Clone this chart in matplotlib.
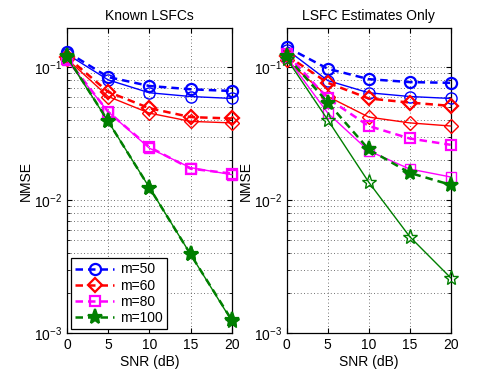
import numpy as np
import matplotlib
matplotlib.use('Agg')
import matplotlib.pyplot as plt

plt.rcParams['font.family'] = ['Liberation Sans', 'DejaVu Sans']

snr = [0, 5, 10, 15, 20]
labels = ['m=50', 'm=60', 'm=80', 'm=100']
colors = ['#0000ff', '#ff0000', '#ff00ff', '#007f00']
markers = ['o', 'D', 's', '*']
msizes = [8, 7, 7, 11]

# Known LSFCs: dashed / solid curves
known_dash = [
    [0.130, 0.084, 0.072, 0.068, 0.066],
    [0.119, 0.065, 0.049, 0.042, 0.041],
    [0.115, 0.046, 0.025, 0.0172, 0.0158],
    [0.120, 0.039, 0.0124, 0.0039, 0.00125],
]
known_solid = [
    [0.125, 0.080, 0.064, 0.060, 0.058],
    [0.115, 0.060, 0.045, 0.039, 0.038],
    [0.112, 0.046, 0.0245, 0.0175, 0.0155],
    [0.118, 0.039, 0.0124, 0.0039, 0.00123],
]
# LSFC estimates only
est_dash = [
    [0.141, 0.097, 0.081, 0.077, 0.076],
    [0.122, 0.076, 0.058, 0.054, 0.051],
    [0.125, 0.058, 0.036, 0.029, 0.026],
    [0.120, 0.054, 0.024, 0.016, 0.013],
]
est_solid = [
    [0.135, 0.079, 0.064, 0.060, 0.058],
    [0.112, 0.060, 0.042, 0.038, 0.036],
    [0.118, 0.045, 0.0234, 0.0171, 0.0149],
    [0.115, 0.040, 0.0136, 0.0053, 0.0026],
]

fig = plt.figure(figsize=(4.98, 3.75), dpi=100)
ax1 = fig.add_axes([0.1345, 0.112, 0.331, 0.813])
ax2 = fig.add_axes([0.576, 0.112, 0.329, 0.813])


def draw(ax, dash, solid, filled_solid_star):
    handles = []
    for i in range(4):
        c = colors[i]
        star = markers[i] == '*'
        fc_d = c if star else 'none'
        fc_s = c if (star and filled_solid_star) else 'none'
        ax.plot(snr, solid[i], '-', color=c, lw=1.0, marker=markers[i],
                ms=msizes[i], mfc=fc_s, mec=c, mew=1.0, clip_on=False, zorder=3)
        h, = ax.plot(snr, dash[i], '--', color=c, lw=1.8, marker=markers[i],
                     ms=msizes[i], mfc=fc_d, mec=c, mew=1.6, dashes=(3, 2),
                     clip_on=False, zorder=3)
        handles.append(h)
    ax.set_yscale('log')
    ax.set_xlim(0, 20)
    ax.set_ylim(1e-3, 0.196)
    ax.set_xticks(snr)
    ax.set_yticks([1e-3, 1e-2, 1e-1])
    ax.grid(True, which='major', color='#444444', lw=0.6, dashes=(1, 3))
    ax.grid(True, which='minor', axis='y', color='#444444', lw=0.6, dashes=(1, 3))
    ax.tick_params(which='both', direction='in', top=True, right=True, labelsize=10)
    ax.set_xlabel('SNR (dB)', fontsize=10, labelpad=2)
    ax.set_ylabel('NMSE', fontsize=10, labelpad=1)
    for s in ax.spines.values():
        s.set_linewidth(0.9)
    return handles


hs = draw(ax1, known_dash, known_solid, True)
ax1.set_title('Known LSFCs', fontsize=10)
draw(ax2, est_dash, est_solid, False)
ax2.set_title('LSFC Estimates Only', fontsize=10)

leg = ax1.legend(hs, labels, loc='lower left', fontsize=10, fancybox=False,
                 edgecolor='black', framealpha=1, handlelength=2.8,
                 borderpad=0.3, labelspacing=0.15, handletextpad=0.4,
                 borderaxespad=0.3)
leg.get_frame().set_linewidth(0.9)

fig.savefig('out.png', dpi=100)
